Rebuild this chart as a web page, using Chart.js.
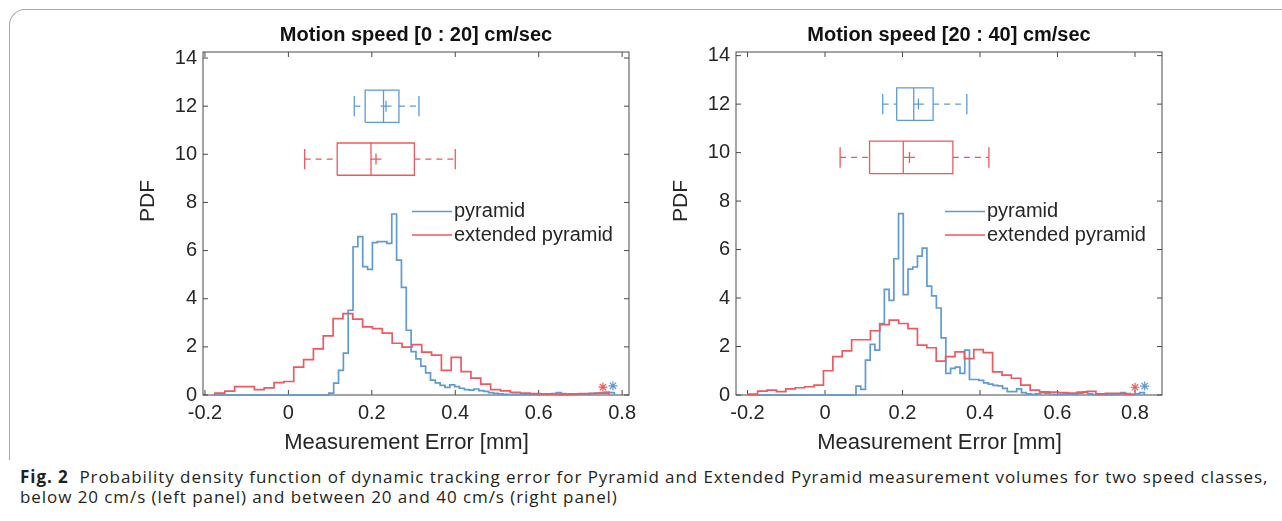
<!DOCTYPE html>
<html>
<head>
<meta charset="utf-8">
<title>Motion speed PDF</title>
<script src="https://cdn.jsdelivr.net/npm/chart.js@4.4.1/dist/chart.umd.min.js"></script>
<style>
  html, body { margin: 0; padding: 0; background: #fff; }
  body { position: relative; width: 1282px; height: 521px; overflow: hidden; }
  .frame { position: absolute; left: 9px; top: 9px; width: 1290px; height: 450px;
           border-left: 1px solid #a8a8a8; border-top: 1px solid #a8a8a8; border-top-left-radius: 16px; }
  canvas { position: absolute; top: 0; }
  #leftChart { left: 0; }
  #rightChart { left: 533px; }
  .caption { position: absolute; left: 20px; top: 467px; font-family: "Open Sans", sans-serif;
             font-size: 17px; letter-spacing: 0.93px; line-height: 20px; color: #231f20; white-space: nowrap; }
</style>
</head>
<body>
<div class="frame"></div>
<canvas id="leftChart" width="660" height="465"></canvas>
<canvas id="rightChart" width="660" height="465"></canvas>
<div class="caption"><b>Fig. 2</b>&nbsp; Probability density function of dynamic tracking error for Pyramid and Extended Pyramid measurement volumes for two speed classes,<br>below 20 cm/s (left panel) and between 20 and 40 cm/s (right panel)</div>
<script>
// ---- data ----
const seriesNames = ["pyramid", "extended pyramid"];
const panelTitles = ["Motion speed [0 : 20] cm/sec", "Motion speed [20 : 40] cm/sec"];
const xAxisTitle = "Measurement Error [mm]";
const yAxisTitle = "PDF";
const xTicks = [-0.2, 0, 0.2, 0.4, 0.6, 0.8];
const xTickLabels = ["-0.2", "0", "0.2", "0.4", "0.6", "0.8"];
const yTicks = [0, 2, 4, 6, 8, 10, 12, 14];
const yTickLabels = ["0", "2", "4", "6", "8", "10", "12", "14"];

// histogram bins: first edge, bin width, PDF per bin
const leftPyramidStart = -0.1814, leftPyramidWidth = 0.0116;
const leftPyramidPdf = [
  0, 0, 0, 0, 0, 0, 0, 0, 0, 0, 0, 0, 0, 0, 0, 0, 0, 0, 0, 0, 0, 0, 0, 0,
  0.08, 0.49, 1.02, 1.74, 3.52, 6.16, 6.58, 5.33, 5.22, 6.33, 6.37, 6.37, 6.3, 7.52,
  5.6, 4.47, 2.69, 1.8, 1.5, 1.2, 0.92, 0.62, 0.5, 0.4, 0.32, 0.42, 0.35, 0.28,
  0.22, 0.2, 0.25, 0.18, 0.15, 0.1, 0.07, 0.05, 0.03, 0.02, 0.03, 0.01, 0.02, 0.03,
  0.03, 0.02, 0.03, 0.04, 0.06, 0.1, 0.06, 0.04, 0.03, 0.04, 0.05, 0.04, 0.06, 0.08,
  0.1, 0.12, 0.1
];
const leftExtendedStart = -0.176, leftExtendedWidth = 0.0236;
const leftExtendedPdf = [
  0.08, 0.16, 0.35, 0.35, 0.22, 0.30, 0.51, 0.56, 1.16, 1.47,
  1.92, 2.46, 3.17, 3.38, 3.15, 2.83, 2.76, 2.57, 2.15, 1.99,
  2.09, 1.78, 1.66, 1.02, 1.56, 0.97, 0.70, 0.45, 0.22, 0.17,
  0.11, 0.08, 0.06, 0.05, 0.04, 0.03, 0.05, 0.06, 0.07, 0.08
];
const rightPyramidStart = -0.2006, rightPyramidWidth = 0.0122;
const rightPyramidPdf = [
  0, 0, 0, 0, 0, 0, 0, 0, 0, 0, 0, 0, 0, 0, 0, 0, 0, 0, 0, 0, 0, 0, 0,
  0.37, 0.23, 1.44, 2.09, 1.85, 2.95, 4.36, 3.9, 5.62, 7.48,
  4.14, 5.19, 5.28, 5.73, 6.06, 4.49, 4.09, 3.59, 2.36, 0.89,
  1.1, 1.15, 0.89, 1.85, 0.64, 0.64, 0.6, 0.5, 0.45, 0.4,
  0.38, 0.27, 0.14, 0.14, 0.25, 0.1, 0.05, 0.03, 0.05, 0.1,
  0.08, 0.03, 0.02, 0.03, 0.05, 0.04, 0.03, 0.08, 0.12, 0.05,
  0.02, 0.01, 0.02, 0.01, 0.02, 0.04, 0.1, 0.06, 0.02, 0.05, 0.1
];
const rightExtendedStart = -0.198, rightExtendedWidth = 0.02425;
const rightExtendedPdf = [
  0.04, 0.16, 0.2, 0.14, 0.25, 0.3, 0.34, 0.41, 1.0, 1.58,
  1.82, 2.28, 2.28, 2.65, 2.9, 3.09, 2.95, 2.74, 2.06, 1.95,
  1.4, 1.58, 1.78, 1.5, 1.87, 1.75, 0.95, 0.82, 0.69, 0.41,
  0.2, 0.13, 0.12, 0.1, 0.08, 0.12, 0.15, 0.05, 0.07, 0.07, 0.03
];

// box plots: [whisker low, q1, median, q3, whisker high], and mean
const leftPyramidBox = [0.158, 0.184, 0.228, 0.265, 0.313];
const leftPyramidMean = 0.234;
const leftExtendedBox = [0.039, 0.117, 0.198, 0.302, 0.400];
const leftExtendedMean = 0.21;
const rightPyramidBox = [0.149, 0.185, 0.229, 0.279, 0.366];
const rightPyramidMean = 0.241;
const rightExtendedBox = [0.039, 0.115, 0.202, 0.330, 0.423];
const rightExtendedMean = 0.218;

// star markers near the baseline: [x, y]
const leftStars = [[0.778, 0.38], [0.754, 0.33]];
const rightStars = [[0.825, 0.37], [0.800, 0.32]];

// ---- styling / layout ----
const FONT = '"Liberation Sans", Arial, sans-serif';
const INK = "#262626";
const BLUE = "#5f9bd3";
const RED = "#ec5a5f";
const ROW_PYRAMID = 12, ROW_EXTENDED = 9.8;   // box plot rows on the PDF axis
const BOX_HALF = 0.67, CAP_HALF = 0.42;

function histPoints(start, width, pdf) {
  const pts = [{ x: start, y: 0 }];
  pdf.forEach((h, i) => pts.push({ x: start + i * width, y: h }));
  pts.push({ x: start + pdf.length * width, y: 0 });
  return pts;
}

function boxDatasets(stats, mean, row, color) {
  const [wLo, q1, med, q3, wHi] = stats;
  const lo = row - BOX_HALF, hi = row + BOX_HALF;
  const seg = (pts, dash) => ({
    data: pts, showLine: true, borderColor: color, borderWidth: 1.3,
    borderDash: dash || [], pointRadius: 0, order: 2
  });
  return [
    seg([{ x: q1, y: lo }, { x: q3, y: lo }, { x: q3, y: hi }, { x: q1, y: hi }, { x: q1, y: lo }]),
    seg([{ x: med, y: lo }, { x: med, y: hi }]),
    seg([{ x: wLo, y: row }, { x: q1, y: row }], [6, 5]),
    seg([{ x: q3, y: row }, { x: wHi, y: row }], [6, 5]),
    seg([{ x: wLo, y: row - CAP_HALF }, { x: wLo, y: row + CAP_HALF }]),
    seg([{ x: wHi, y: row - CAP_HALF }, { x: wHi, y: row + CAP_HALF }]),
    { data: [{ x: mean, y: row }], showLine: false, pointStyle: "cross", pointRadius: 5.5,
      pointBorderColor: color, borderColor: color, pointBorderWidth: 1.3, order: 2 }
  ];
}

// axes box with inward ticks on all four sides
const axisBox = {
  id: "axisBox",
  beforeDatasetsDraw(chart) {
    const { ctx, chartArea: a, scales: { x, y } } = chart;
    ctx.save();
    ctx.strokeStyle = "#4a4a4a";
    ctx.lineWidth = 1;
    ctx.strokeRect(a.left, a.top, a.right - a.left, a.bottom - a.top);
    ctx.beginPath();
    x.ticks.forEach(t => {
      const px = x.getPixelForValue(t.value);
      ctx.moveTo(px, a.bottom); ctx.lineTo(px, a.bottom - 5);
      ctx.moveTo(px, a.top); ctx.lineTo(px, a.top + 5);
    });
    y.ticks.forEach(t => {
      const py = y.getPixelForValue(t.value);
      ctx.moveTo(a.left, py); ctx.lineTo(a.left + 5, py);
      ctx.moveTo(a.right, py); ctx.lineTo(a.right - 5, py);
    });
    ctx.stroke();
    ctx.restore();
  }
};

// axis titles, placed where the MATLAB figure has them
const axisTitles = {
  id: "axisTitles",
  afterDraw(chart, args, opts) {
    const { ctx, chartArea: a } = chart;
    ctx.save();
    ctx.fillStyle = INK;
    ctx.textAlign = "center";
    ctx.textBaseline = "middle";
    ctx.font = "22px " + FONT;
    ctx.fillText(xAxisTitle, (a.left + a.right) / 2 + opts.xShift, a.bottom + opts.xDrop);
    ctx.font = "21px " + FONT;
    ctx.translate(opts.yX, a.top + opts.yDrop);
    ctx.rotate(-Math.PI / 2);
    ctx.fillText(yAxisTitle, 0, 0);
    ctx.restore();
  }
};

// legend drawn inside the axes, like the MATLAB one
const innerLegend = {
  id: "innerLegend",
  afterDatasetsDraw(chart, args, opts) {
    const { ctx, chartArea: a } = chart;
    ctx.save();
    ctx.font = "20px " + FONT;
    ctx.textBaseline = "middle";
    chart.data.datasets.filter(d => d.inLegend).forEach((d, i) => {
      const yy = a.top + opts.top + i * opts.rowGap;
      const x0 = a.left + opts.left;
      ctx.strokeStyle = d.borderColor;
      ctx.lineWidth = 1.5;
      ctx.beginPath(); ctx.moveTo(x0, yy); ctx.lineTo(x0 + opts.lineLen, yy); ctx.stroke();
      ctx.fillStyle = INK;
      ctx.fillText(d.label, x0 + opts.lineLen + opts.textGap, yy);
    });
    ctx.restore();
  }
};

function makePanel(id, title, blueHist, redHist, blueBox, blueMean, redBox, redMean, stars, xMin, xMax, yMax) {
  const datasets = [
    { label: seriesNames[0], inLegend: true, data: histPoints(...blueHist), showLine: true, stepped: true,
      borderColor: BLUE, borderWidth: 1.7, pointRadius: 0, clip: false, order: 1 },
    { label: seriesNames[1], inLegend: true, data: histPoints(...redHist), showLine: true, stepped: true,
      borderColor: RED, borderWidth: 1.7, pointRadius: 0, clip: false, order: 0 },
    ...boxDatasets(blueBox, blueMean, ROW_PYRAMID, BLUE),
    ...boxDatasets(redBox, redMean, ROW_EXTENDED, RED),
    { data: [{ x: stars[0][0], y: stars[0][1] }], showLine: false, pointStyle: "star", pointRadius: 4.5,
      pointBorderColor: BLUE, borderColor: BLUE, pointBorderWidth: 1.2, clip: false },
    { data: [{ x: stars[1][0], y: stars[1][1] }], showLine: false, pointStyle: "star", pointRadius: 4.5,
      pointBorderColor: RED, borderColor: RED, pointBorderWidth: 1.2, clip: false }
  ];

  new Chart(document.getElementById(id), {
    type: "scatter",
    data: { datasets },
    plugins: [axisBox, axisTitles, innerLegend],
    options: {
      responsive: false,
      animation: false,
      events: [],
      layout: { padding: { left: 0, right: 31, top: 0, bottom: 0 } },
      elements: { line: { tension: 0 } },
      plugins: {
        legend: { display: false },
        tooltip: { enabled: false },
        title: { display: true, text: title, color: "#111", fullSize: false,
                 font: { family: FONT, size: 20, weight: "bold" }, padding: { top: 23, bottom: 5 } },
        axisTitles: { xShift: -9.5, xDrop: 48, yX: 148.5, yDrop: 149 },
        innerLegend: { left: 209, top: 159.5, rowGap: 23.5, lineLen: 40, textGap: 2 }
      },
      scales: {
        x: {
          type: "linear", min: xMin, max: xMax,
          afterBuildTicks: s => { s.ticks = xTicks.map(v => ({ value: v })); },
          afterFit: s => { s.height = 70; },
          grid: { display: false, drawTicks: false },
          border: { display: false },
          ticks: { color: INK, font: { family: FONT, size: 20 }, padding: 6, maxRotation: 0, autoSkip: false,
                   callback: (v, i) => xTickLabels[i] }
        },
        y: {
          type: "linear", min: 0, max: yMax,
          afterBuildTicks: s => { s.ticks = yTicks.map(v => ({ value: v })); },
          afterFit: s => { s.width = 203; },
          grid: { display: false, drawTicks: false },
          border: { display: false },
          ticks: { color: INK, font: { family: FONT, size: 20 }, padding: 6, autoSkip: false,
                   callback: (v, i) => yTickLabels[i] }
        }
      }
    }
  });
}

makePanel("leftChart", panelTitles[0],
  [leftPyramidStart, leftPyramidWidth, leftPyramidPdf],
  [leftExtendedStart, leftExtendedWidth, leftExtendedPdf],
  leftPyramidBox, leftPyramidMean, leftExtendedBox, leftExtendedMean,
  leftStars, -0.2047, 0.8165, 14.25);

makePanel("rightChart", panelTitles[1],
  [rightPyramidStart, rightPyramidWidth, rightPyramidPdf],
  [rightExtendedStart, rightExtendedWidth, rightExtendedPdf],
  rightPyramidBox, rightPyramidMean, rightExtendedBox, rightExtendedMean,
  rightStars, -0.2297, 0.8697, 14.15);
</script>
</body>
</html>
